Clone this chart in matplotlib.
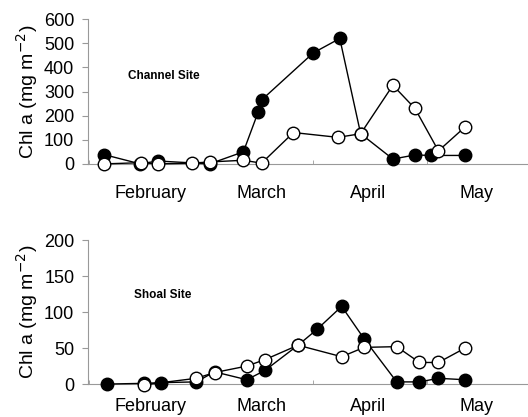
import numpy as np
import matplotlib.pyplot as plt

plt.rcParams['font.family'] = ['Liberation Sans', 'DejaVu Sans']

# sample dates as day of year
ch_fill_day = [36, 45.4, 50, 63.7, 72.6, 76.5, 77.4, 91, 98, 103.5, 112, 117.8, 122, 131]
ch_fill_val = [38, 0, 12, 0, 50, 215, 265, 460, 520, 125, 20, 37, 35, 35]
ch_open_day = [36, 45.7, 50, 59, 63.7, 72.6, 77.4, 85.8, 97.5, 103.5, 112, 117.8, 124, 131]
ch_open_val = [0, 5, 0, 3, 8, 15, 3, 130, 110, 125, 326, 230, 54, 153]

sh_fill_day = [36.7, 46.5, 51, 60.2, 65, 73.5, 78.3, 87, 92, 98.5, 104.4, 113, 119, 124, 131]
sh_fill_val = [0, 1, 2, 3, 17, 6, 19, 54, 76, 108, 63, 3, 3, 8, 6]
sh_open_day = [46.5, 60.2, 65, 73.5, 78.3, 87, 98.5, 104.4, 113, 119, 124, 131]
sh_open_val = [-1, 8, 16, 25, 34, 54, 38, 51, 52, 30, 30, 50]

months = ['February', 'March', 'April', 'May']
month_pos = [48, 77.5, 105.5, 134]
month_start = [32, 60, 91, 121]

fig = plt.figure(figsize=(5.28, 4.17), dpi=100)
ax1 = fig.add_axes([0.167, 0.607, 0.833, 0.347])
ax2 = fig.add_axes([0.167, 0.079, 0.833, 0.345])

panels = [
    (ax1, ch_fill_day, ch_fill_val, ch_open_day, ch_open_val, 600, 100, 'Channel Site', 0.09, 0.61, 15),
    (ax2, sh_fill_day, sh_fill_val, sh_open_day, sh_open_val, 200, 50, 'Shoal Site', 0.105, 0.62, 10),
]

for ax, fd, fv, od, ov, ymax, step, name, tx, ty, xpad in panels:
    ax.plot(fd, fv, color='black', lw=1.0, marker='o', ms=9,
            mfc='black', mec='black', clip_on=False, zorder=3)
    ax.plot(od, ov, color='black', lw=1.0, marker='o', ms=9,
            mfc='white', mec='black', mew=1.0, clip_on=False, zorder=4)
    ax.set_xlim(31.7, 147.6)
    ax.set_ylim(0, ymax)
    ax.set_yticks(np.arange(0, ymax + 1, step))
    ax.set_xticks(month_pos)
    ax.set_xticklabels(months, fontsize=13)
    ax.set_xticks(month_start, minor=True)
    ax.tick_params(axis='x', which='major', length=0, pad=xpad)
    ax.tick_params(axis='x', which='minor', length=3, direction='in', color='#999999')
    ax.tick_params(axis='y', labelsize=13, length=4, color='#999999', pad=6)
    for s in ['top', 'right']:
        ax.spines[s].set_visible(False)
    for s in ['left', 'bottom']:
        ax.spines[s].set_color('#999999')
        ax.spines[s].set_linewidth(0.8)
    ax.set_ylabel('Chl a (mg m$^{-2}$)', fontsize=14, labelpad=3)
    ax.text(tx, ty, name, transform=ax.transAxes, fontsize=8.5,
            fontweight='bold', va='center')

fig.savefig('out.png', dpi=100)
